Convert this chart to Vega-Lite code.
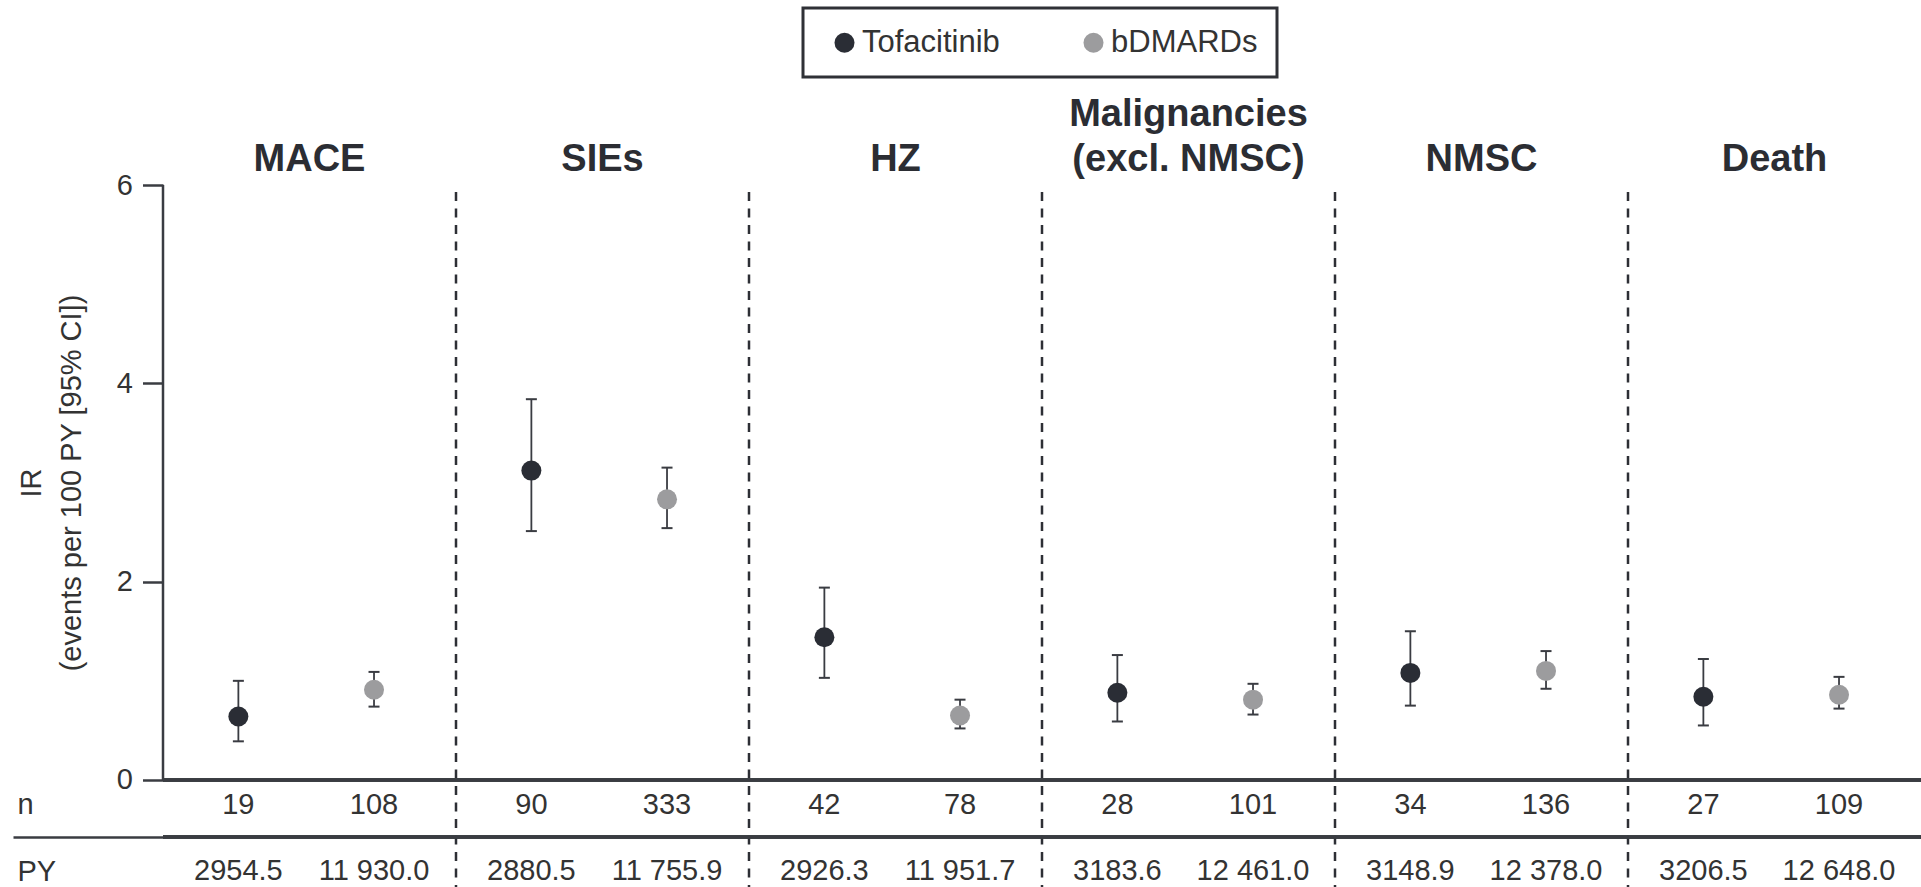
{
  "$schema": "https://vega.github.io/schema/vega-lite/v6.json",
  "width": 1758,
  "height": 702,
  "autosize": {"type": "none"},
  "padding": {"left": 163, "top": 185, "right": 0, "bottom": 0},
  "background": "white",
  "config": {
    "view": {"stroke": null},
    "font": "Liberation Sans",
    "legend": {"strokeWidth": 3}
  },
  "data": {
    "values": [
      {"category": "MACE", "group": "Tofacitinib", "ir": 0.64, "lo": 0.39, "hi": 1.00, "n": 19, "py": "2954.5"},
      {"category": "MACE", "group": "bDMARDs", "ir": 0.91, "lo": 0.74, "hi": 1.09, "n": 108, "py": "11 930.0"},
      {"category": "SIEs", "group": "Tofacitinib", "ir": 3.12, "lo": 2.51, "hi": 3.84, "n": 90, "py": "2880.5"},
      {"category": "SIEs", "group": "bDMARDs", "ir": 2.83, "lo": 2.54, "hi": 3.15, "n": 333, "py": "11 755.9"},
      {"category": "HZ", "group": "Tofacitinib", "ir": 1.44, "lo": 1.03, "hi": 1.94, "n": 42, "py": "2926.3"},
      {"category": "HZ", "group": "bDMARDs", "ir": 0.65, "lo": 0.52, "hi": 0.81, "n": 78, "py": "11 951.7"},
      {"category": "Malignancies (excl. NMSC)", "group": "Tofacitinib", "ir": 0.88, "lo": 0.59, "hi": 1.26, "n": 28, "py": "3183.6"},
      {"category": "Malignancies (excl. NMSC)", "group": "bDMARDs", "ir": 0.81, "lo": 0.66, "hi": 0.97, "n": 101, "py": "12 461.0"},
      {"category": "NMSC", "group": "Tofacitinib", "ir": 1.08, "lo": 0.75, "hi": 1.50, "n": 34, "py": "3148.9"},
      {"category": "NMSC", "group": "bDMARDs", "ir": 1.10, "lo": 0.92, "hi": 1.30, "n": 136, "py": "12 378.0"},
      {"category": "Death", "group": "Tofacitinib", "ir": 0.84, "lo": 0.55, "hi": 1.22, "n": 27, "py": "3206.5"},
      {"category": "Death", "group": "bDMARDs", "ir": 0.86, "lo": 0.72, "hi": 1.04, "n": 109, "py": "12 648.0"}
    ]
  },
  "layer": [
    {
      "transform": [{"filter": "datum.group == 'Tofacitinib' && datum.category != 'MACE'"}],
      "mark": {"type": "rule", "strokeDash": [9, 7.5], "strokeWidth": 2.5, "color": "#2d2f35"},
      "encoding": {
        "x": {"field": "category", "type": "nominal", "sort": null, "bandPosition": 0,
              "scale": {"domain": ["MACE", "SIEs", "HZ", "Malignancies (excl. NMSC)", "NMSC", "Death"], "paddingInner": 0, "paddingOuter": 0},
              "axis": null},
        "y": {"datum": 5.93, "type": "quantitative", "scale": {"domain": [-1.079, 6]}, "axis": null},
        "y2": {"datum": -1.079}
      }
    },
    {
      "transform": [{"filter": "datum.group == 'Tofacitinib' && datum.category == 'MACE'"}],
      "mark": {"type": "rule", "strokeWidth": 2.5, "color": "#3a3c42"},
      "encoding": {
        "x": {"field": "category", "type": "nominal", "sort": null, "bandPosition": 0,
              "scale": {"domain": ["MACE", "SIEs", "HZ", "Malignancies (excl. NMSC)", "NMSC", "Death"], "paddingInner": 0, "paddingOuter": 0},
              "axis": null},
        "y": {"datum": 0, "type": "quantitative", "scale": {"domain": [-1.079, 6]}, "axis": null},
        "y2": {"datum": 6}
      }
    },
    {
      "mark": {"type": "rule", "strokeWidth": 2.5, "color": "#3a3c42"},
      "encoding": {
        "y": {"datum": 0, "type": "quantitative", "scale": {"domain": [-1.079, 6]},
              "axis": {
                "orient": "left", "values": [0, 2, 4, 6], "grid": false, "domain": false,
                "tickSize": 20.5, "tickWidth": 2.5, "tickColor": "#3a3c42",
                "labelFontSize": 29, "labelPadding": 10, "labelColor": "#333333", "labelFont": "Liberation Sans",
                "labelOverlap": false, "labelFlush": false, "labelBaseline": "middle",
                "title": ["IR", "(events per 100 PY [95% CI])"],
                "titleFontSize": 29, "titleFontWeight": "normal", "titleColor": "#333333", "titleFont": "Liberation Sans",
                "titleX": -123, "titleY": 297.5, "titleAngle": 270, "titleAlign": "center",
                "titleBaseline": "alphabetic", "titleLineHeight": 40
              }}
      }
    },
    {
      "mark": {"type": "rule", "strokeWidth": 2.5, "color": "#3a3c42"},
      "encoding": {
        "y": {"datum": -0.576, "type": "quantitative", "scale": {"domain": [-1.079, 6]},
              "axis": {
                "orient": "left", "values": [-0.576], "grid": false, "domain": false,
                "ticks": true, "tickSize": 150, "tickWidth": 2.5, "tickColor": "#3a3c42",
                "labels": false, "title": null
              }}
      }
    },
    {
      "transform": [
        {"filter": "datum.group == 'Tofacitinib'"},
        {"calculate": "datum.category == 'Malignancies (excl. NMSC)' ? 'Malignancies' : ''", "as": "line1"},
        {"calculate": "datum.category == 'Malignancies (excl. NMSC)' ? '(excl. NMSC)' : datum.category", "as": "line2"}
      ],
      "mark": {"type": "text", "fontSize": 38, "fontWeight": "bold", "color": "#2b2d33", "baseline": "bottom", "align": "center", "font": "Liberation Sans"},
      "encoding": {
        "x": {"field": "category", "type": "nominal", "sort": null,
              "scale": {"domain": ["MACE", "SIEs", "HZ", "Malignancies (excl. NMSC)", "NMSC", "Death"], "paddingInner": 0, "paddingOuter": 0},
              "axis": null},
        "y": {"datum": 6.511, "type": "quantitative", "scale": {"domain": [-1.079, 6]}, "axis": null},
        "text": {"field": "line1"}
      }
    },
    {
      "transform": [
        {"filter": "datum.group == 'Tofacitinib'"},
        {"calculate": "datum.category == 'Malignancies (excl. NMSC)' ? '(excl. NMSC)' : datum.category", "as": "line2"}
      ],
      "mark": {"type": "text", "fontSize": 38, "fontWeight": "bold", "color": "#2b2d33", "baseline": "bottom", "align": "center", "font": "Liberation Sans"},
      "encoding": {
        "x": {"field": "category", "type": "nominal", "sort": null,
              "scale": {"domain": ["MACE", "SIEs", "HZ", "Malignancies (excl. NMSC)", "NMSC", "Death"], "paddingInner": 0, "paddingOuter": 0},
              "axis": null},
        "y": {"datum": 6.057, "type": "quantitative", "scale": {"domain": [-1.079, 6]}, "axis": null},
        "text": {"field": "line2"}
      }
    },
    {
      "mark": {"type": "rule", "strokeWidth": 1.8, "color": "#3a3c42"},
      "encoding": {
        "x": {"field": "category", "type": "nominal", "sort": null,
              "scale": {"domain": ["MACE", "SIEs", "HZ", "Malignancies (excl. NMSC)", "NMSC", "Death"], "paddingInner": 0, "paddingOuter": 0},
              "axis": null},
        "xOffset": {"field": "group", "type": "nominal", "sort": null,
                    "scale": {"type": "point", "domain": ["Tofacitinib", "bDMARDs"], "padding": 0.58, "align": 0.479}},
        "y": {"field": "lo", "type": "quantitative", "scale": {"domain": [-1.079, 6]}, "axis": null},
        "y2": {"field": "hi"}
      }
    },
    {
      "mark": {"type": "tick", "size": 11, "thickness": 2, "color": "#3a3c42", "opacity": 1},
      "encoding": {
        "x": {"field": "category", "type": "nominal", "sort": null,
              "scale": {"domain": ["MACE", "SIEs", "HZ", "Malignancies (excl. NMSC)", "NMSC", "Death"], "paddingInner": 0, "paddingOuter": 0},
              "axis": null},
        "xOffset": {"field": "group", "type": "nominal", "sort": null,
                    "scale": {"type": "point", "domain": ["Tofacitinib", "bDMARDs"], "padding": 0.58, "align": 0.479}},
        "y": {"field": "lo", "type": "quantitative", "scale": {"domain": [-1.079, 6]}, "axis": null}
      }
    },
    {
      "mark": {"type": "tick", "size": 11, "thickness": 2, "color": "#3a3c42", "opacity": 1},
      "encoding": {
        "x": {"field": "category", "type": "nominal", "sort": null,
              "scale": {"domain": ["MACE", "SIEs", "HZ", "Malignancies (excl. NMSC)", "NMSC", "Death"], "paddingInner": 0, "paddingOuter": 0},
              "axis": null},
        "xOffset": {"field": "group", "type": "nominal", "sort": null,
                    "scale": {"type": "point", "domain": ["Tofacitinib", "bDMARDs"], "padding": 0.58, "align": 0.479}},
        "y": {"field": "hi", "type": "quantitative", "scale": {"domain": [-1.079, 6]}, "axis": null}
      }
    },
    {
      "mark": {"type": "point", "filled": true, "size": 400, "opacity": 1, "shape": "circle"},
      "encoding": {
        "x": {"field": "category", "type": "nominal", "sort": null,
              "scale": {"domain": ["MACE", "SIEs", "HZ", "Malignancies (excl. NMSC)", "NMSC", "Death"], "paddingInner": 0, "paddingOuter": 0},
              "axis": null},
        "xOffset": {"field": "group", "type": "nominal", "sort": null,
                    "scale": {"type": "point", "domain": ["Tofacitinib", "bDMARDs"], "padding": 0.58, "align": 0.479}},
        "y": {"field": "ir", "type": "quantitative", "scale": {"domain": [-1.079, 6]}, "axis": null},
        "color": {"field": "group", "type": "nominal", "sort": null,
                  "scale": {"domain": ["Tofacitinib", "bDMARDs"], "range": ["#2a2d35", "#9c9c9e"]},
                  "legend": {
                    "orient": "none", "legendX": 640, "legendY": -177, "direction": "horizontal",
                    "title": null, "symbolSize": 400, "symbolType": "circle", "symbolOpacity": 1, "symbolStrokeWidth": 0,
                    "labelFontSize": 31, "labelColor": "#333333", "labelFont": "Liberation Sans", "labelLimit": 400,
                    "labelOffset": 2, "columnPadding": 71, "padding": 19, "symbolOffset": 7,
                    "strokeColor": "#2f3136"
                  }}
      }
    },
    {
      "mark": {"type": "text", "fontSize": 29, "color": "#333333", "baseline": "middle", "align": "center", "font": "Liberation Sans"},
      "encoding": {
        "x": {"field": "category", "type": "nominal", "sort": null,
              "scale": {"domain": ["MACE", "SIEs", "HZ", "Malignancies (excl. NMSC)", "NMSC", "Death"], "paddingInner": 0, "paddingOuter": 0},
              "axis": null},
        "xOffset": {"field": "group", "type": "nominal", "sort": null,
                    "scale": {"type": "point", "domain": ["Tofacitinib", "bDMARDs"], "padding": 0.58, "align": 0.479}},
        "y": {"datum": -0.25, "type": "quantitative", "scale": {"domain": [-1.079, 6]},
              "axis": {
                "orient": "left", "values": [-0.25, -0.92], "grid": false, "domain": false,
                "ticks": true, "tickSize": 0, "tickOpacity": 0,
                "labelExpr": "datum.value < -0.5 ? 'PY' : 'n'",
                "labelAlign": "left", "labelBaseline": "middle", "labelPadding": 146,
                "labelFontSize": 29, "labelColor": "#333333", "labelFont": "Liberation Sans",
                "labelOverlap": false, "labelFlush": false,
                "title": null
              }},
        "text": {"field": "n", "type": "nominal"}
      }
    },
    {
      "mark": {"type": "text", "fontSize": 29, "color": "#333333", "baseline": "middle", "align": "center", "font": "Liberation Sans"},
      "encoding": {
        "x": {"field": "category", "type": "nominal", "sort": null,
              "scale": {"domain": ["MACE", "SIEs", "HZ", "Malignancies (excl. NMSC)", "NMSC", "Death"], "paddingInner": 0, "paddingOuter": 0},
              "axis": null},
        "xOffset": {"field": "group", "type": "nominal", "sort": null,
                    "scale": {"type": "point", "domain": ["Tofacitinib", "bDMARDs"], "padding": 0.58, "align": 0.479}},
        "y": {"datum": -0.92, "type": "quantitative", "scale": {"domain": [-1.079, 6]}, "axis": null},
        "text": {"field": "py", "type": "nominal"}
      }
    }
  ],
  "resolve": {"axis": {"y": "independent"}}
}
